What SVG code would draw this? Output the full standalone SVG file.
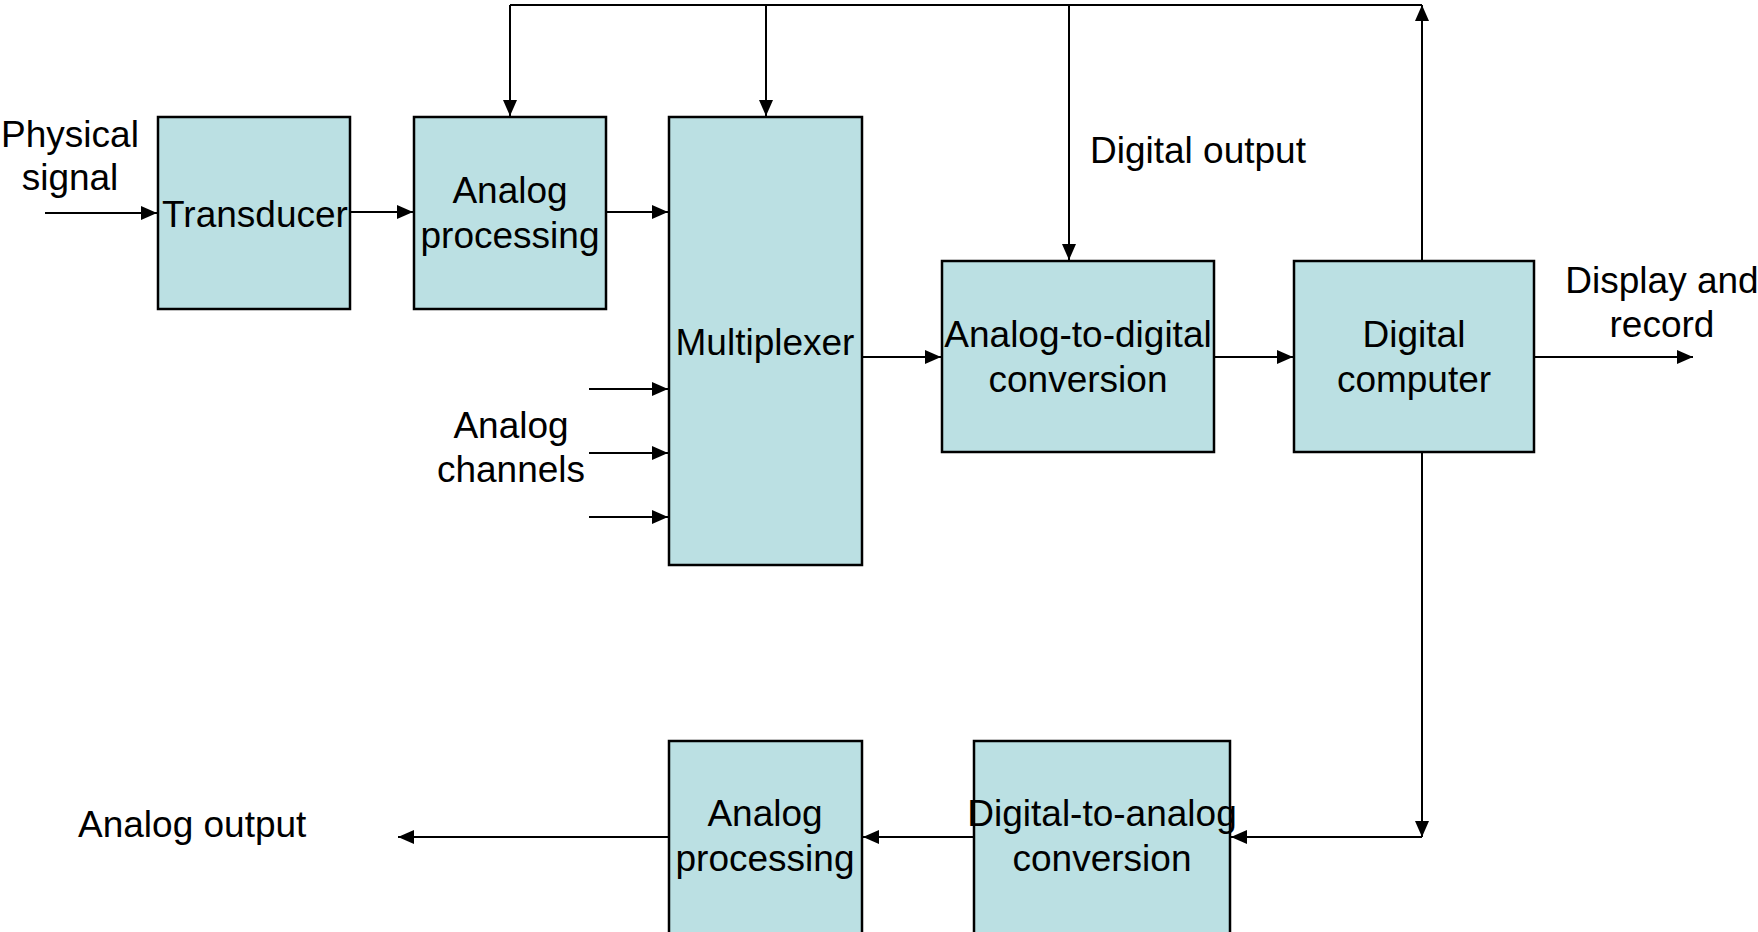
<svg xmlns="http://www.w3.org/2000/svg" width="1758" height="932" viewBox="0 0 1758 932">
<defs>
<marker id="arr" viewBox="0 0 16 14" refX="16" refY="7" markerWidth="16" markerHeight="14" markerUnits="userSpaceOnUse" orient="auto">
<path d="M0,0 L16,7 L0,14 z" fill="#000"/>
</marker>
</defs>
<style>
.box{fill:#BBE0E3;stroke:#000;stroke-width:2.5}
.t{font-family:"Liberation Sans",Arial,sans-serif;font-size:37px;fill:#000}
.m{text-anchor:middle}
.c{fill:none;stroke:#000;stroke-width:2}
.a{marker-end:url(#arr)}
</style>
<rect width="1758" height="932" fill="#fff"/>
<g id="connectors">
<line class="c" x1="510" y1="5" x2="1422" y2="5"/>
<line class="c a" x1="1422" y1="261" x2="1422" y2="5"/>
<line class="c a" x1="510" y1="5" x2="510" y2="116"/>
<line class="c a" x1="766" y1="5" x2="766" y2="116"/>
<line class="c a" x1="1069" y1="5" x2="1069" y2="260"/>
<line class="c a" x1="45" y1="213" x2="157" y2="213"/>
<line class="c a" x1="350" y1="212" x2="413" y2="212"/>
<line class="c a" x1="606" y1="212" x2="668" y2="212"/>
<line class="c a" x1="589" y1="389" x2="668" y2="389"/>
<line class="c a" x1="589" y1="453" x2="668" y2="453"/>
<line class="c a" x1="589" y1="517" x2="668" y2="517"/>
<line class="c a" x1="862" y1="357" x2="941" y2="357"/>
<line class="c a" x1="1214" y1="357" x2="1293" y2="357"/>
<line class="c a" x1="1534" y1="357" x2="1693" y2="357"/>
<line class="c a" x1="1422" y1="453" x2="1422" y2="837"/>
<line class="c a" x1="1422" y1="837" x2="1231" y2="837"/>
<line class="c a" x1="974" y1="837" x2="863" y2="837"/>
<line class="c a" x1="669" y1="837" x2="398" y2="837"/>
</g>
<g id="transducer">
<rect class="box" x="158" y="117" width="192" height="192"/>
<text class="t m" x="255" y="227">Transducer</text>
</g>
<g id="analog-processing-1">
<rect class="box" x="414" y="117" width="192" height="192"/>
<text class="t m" x="510" y="203">Analog</text>
<text class="t m" x="510" y="248">processing</text>
</g>
<g id="multiplexer">
<rect class="box" x="669" y="117" width="193" height="448"/>
<text class="t m" x="765" y="355">Multiplexer</text>
</g>
<g id="adc">
<rect class="box" x="942" y="261" width="272" height="191"/>
<text class="t m" x="1078" y="347">Analog-to-digital</text>
<text class="t m" x="1078" y="392">conversion</text>
</g>
<g id="computer">
<rect class="box" x="1294" y="261" width="240" height="191"/>
<text class="t m" x="1414" y="347">Digital</text>
<text class="t m" x="1414" y="392">computer</text>
</g>
<g id="dac">
<rect class="box" x="974" y="741" width="256" height="200"/>
<text class="t m" x="1102" y="826">Digital-to-analog</text>
<text class="t m" x="1102" y="871">conversion</text>
</g>
<g id="analog-processing-2">
<rect class="box" x="669" y="741" width="193" height="200"/>
<text class="t m" x="765" y="826">Analog</text>
<text class="t m" x="765" y="871">processing</text>
</g>
<g id="labels">
<text class="t m" x="70" y="147">Physical</text>
<text class="t m" x="70" y="190">signal</text>
<text class="t m" x="511" y="438">Analog</text>
<text class="t m" x="511" y="482">channels</text>
<text class="t" x="1090" y="163">Digital output</text>
<text class="t m" x="1662" y="293">Display and</text>
<text class="t m" x="1662" y="337">record</text>
<text class="t" x="78" y="837">Analog output</text>
</g>
</svg>
